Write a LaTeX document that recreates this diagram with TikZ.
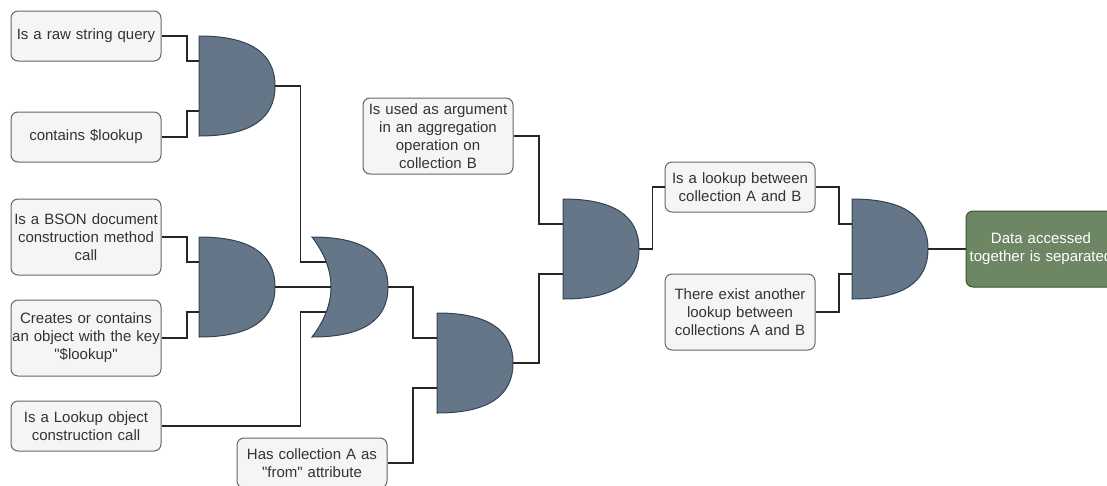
\documentclass[tikz,border=0pt]{standalone}
\usepackage{fontspec}
\setmainfont{Liberation Sans}
\usepackage{tikz}
\usetikzlibrary{shapes, arrows.meta, positioning}
\definecolor{boxfill}{HTML}{F5F5F5}
\definecolor{boxline}{HTML}{666666}
\definecolor{boxtext}{HTML}{333333}
\definecolor{gatefill}{HTML}{647687}
\definecolor{gateline}{HTML}{314354}
\definecolor{resultfill}{HTML}{6D8764}
\definecolor{resultline}{HTML}{3A5431}
\tikzstyle{box} = [draw=boxline, fill=boxfill, text=boxtext, rectangle, rounded corners=7pt,
  line width=1pt, minimum width=150pt, minimum height=50pt, text width=148pt, inner sep=1pt,
  align=center, font=\fontsize{15}{18}\selectfont]
\tikzstyle{tall} = [minimum height=76pt]
\tikzstyle{result} = [draw=resultline, fill=resultfill, text=white]
\tikzstyle{gate} = [rectangle, minimum width=76pt, minimum height=100pt, inner sep=0pt, outer sep=0pt]
\tikzstyle{gatebody} = [fill=gatefill, draw=gateline, line width=1pt]
\tikzstyle{wire} = [draw=black!85, line width=1.2pt]
\newcommand{\drawand}[1]{%
  \filldraw[gatebody] (#1.north west) .. controls +(50.67,0) and +(0,-33.33) .. (#1.east)
    .. controls +(0,33.33) and +(50.67,0) .. (#1.south west) -- cycle;
  \coordinate (#1-a) at ([yshift=25pt]#1.west);
  \coordinate (#1-b) at ([yshift=-25pt]#1.west);}
\newcommand{\drawor}[1]{%
  \filldraw[gatebody] (#1.north west) .. controls +(50.67,0) and +(0,-33.33) .. (#1.east)
    .. controls +(0,33.33) and +(50.67,0) .. (#1.south west)
    .. controls +(25.33,-33.33) and +(25.33,33.33) .. (#1.north west) -- cycle;
  \coordinate (#1-a) at ([xshift=14.25pt, yshift=25pt]#1.west);
  \coordinate (#1-m) at ([xshift=19pt]#1.west);
  \coordinate (#1-b) at ([xshift=14.25pt, yshift=-25pt]#1.west);}

\begin{document}
\begin{tikzpicture}[auto, >=latex, x=1pt, y=-1pt]
  \useasboundingbox (0,0) rectangle (1107,485);
  \clip (0,0) rectangle (1107,485);
  \node[box] (raw) at (86,36) {Is a raw string query};
  \node[box, below of=raw, node distance=101pt] (lookup) {contains \$lookup};
  \node[box, tall, below of=lookup, node distance=100pt] (bson) {Is a BSON document\\construction method\\call};
  \node[box, tall, below of=bson, node distance=101pt] (creates) {Creates or contains\\an object with the key\\\textquotedbl\$lookup\textquotedbl};
  \node[box, below of=creates, node distance=88pt] (lookupobj) {Is a Lookup object\\construction call};
  \node[box] (hascoll) at (312,463) {Has collection A as\\\textquotedbl from\textquotedbl{} attribute};
  \node[box, tall] (used) at (438,136) {Is used as argument\\in an aggregation\\operation on\\collection B};
  \node[box] (between) at (740,187) {Is a lookup between\\collection A and B};
  \node[box, tall, below of=between, node distance=125pt] (another) {There exist another\\lookup between\\collections A and B};
  \node[gate] (and1) at (237,86) {};
  \node[gate] (and2) at (237,287) {};
  \node[gate, right of=and2, node distance=113pt] (or) {};
  \node[gate] (and3) at (475,363) {};
  \node[gate] (and4) at (601,249) {};
  \node[gate, right of=and4, node distance=289pt] (and5) {};
  \node[box, tall, result, right of=and5, node distance=151pt] (data) {Data accessed\\together is separated};
  \drawand{and1}
  \drawand{and2}
  \drawor{or}
  \drawand{and3}
  \drawand{and4}
  \drawand{and5}
  \draw[wire] (raw.east) -| ([xshift=-12pt]and1-a) -- (and1-a);
  \draw[wire] (lookup.east) -| ([xshift=-12pt]and1-b) -- (and1-b);
  \draw[wire] (bson.east) -| ([xshift=-12pt]and2-a) -- (and2-a);
  \draw[wire] (creates.east) -| ([xshift=-12pt]and2-b) -- (and2-b);
  \draw[wire] (and1.east) -| ([xshift=-26pt]or-a) -- (or-a);
  \draw[wire] (and2.east) -- (or-m);
  \draw[wire] (lookupobj.east) -| ([xshift=-26pt]or-b) -- (or-b);
  \draw[wire] (or.east) -| ([xshift=-24pt]and3-a) -- (and3-a);
  \draw[wire] (hascoll.east) -| ([xshift=-24pt]and3-b) -- (and3-b);
  \draw[wire] (used.east) -| ([xshift=-24pt]and4-a) -- (and4-a);
  \draw[wire] (and3.east) -| ([xshift=-24pt]and4-b) -- (and4-b);
  \draw[wire] (and4.east) -| ([xshift=-12pt]between.west) -- (between.west);
  \draw[wire] (between.east) -| ([xshift=-13pt]and5-a) -- (and5-a);
  \draw[wire] (another.east) -| ([xshift=-13pt]and5-b) -- (and5-b);
  \draw[wire] (and5.east) -- (data.west);
\end{tikzpicture}
\end{document}
